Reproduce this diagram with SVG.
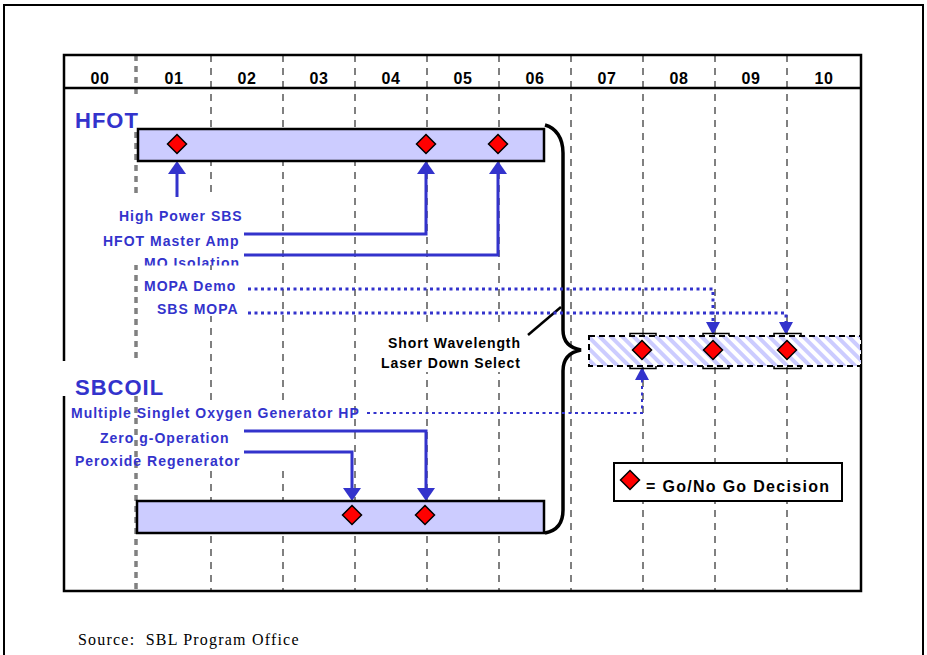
<svg xmlns="http://www.w3.org/2000/svg" width="927" height="655" viewBox="0 0 927 655">
<style>
.lbl{font-family:"Liberation Sans",Arial,sans-serif;font-weight:bold;font-size:14px;fill:#3333cc;letter-spacing:1px}
.ttl{font-family:"Liberation Sans",Arial,sans-serif;font-weight:bold;font-size:22px;fill:#3333cc;letter-spacing:1px}
.blk{font-family:"Liberation Sans",Arial,sans-serif;font-weight:bold;font-size:14px;fill:#000;letter-spacing:0.9px}
.yr{font-family:"Liberation Sans",Arial,sans-serif;font-weight:bold;font-size:16px;fill:#000;text-anchor:middle;letter-spacing:0.6px}
.grid{stroke:#808080;stroke-width:2;stroke-dasharray:7 6;fill:none}
.bar{fill:#ccccff;stroke:#000;stroke-width:2.5}
.solid{fill:none;stroke:#3333cc;stroke-width:3}
.dot{fill:none;stroke:#3333cc;stroke-width:3;stroke-dasharray:3 3.5}
.dia{fill:#ff0000;stroke:#000;stroke-width:1.5}
.wb{fill:#fff;stroke:none}
.brk{fill:none;stroke:#000;stroke-width:1.5}
</style>
<defs>
<path id="dmd" d="M0,-9.5 L9.5,0 L0,9.5 L-9.5,0 Z"/>
<marker id="ah" viewBox="0 0 13 18" refX="3" refY="9" markerWidth="13" markerHeight="18" orient="auto" markerUnits="userSpaceOnUse">
<path d="M0,0 L13,9 L0,18 Z" fill="#3333cc"/>
</marker>
<marker id="ahd" viewBox="0 0 13 14" refX="3" refY="7" markerWidth="13" markerHeight="14" orient="auto" markerUnits="userSpaceOnUse">
<path d="M0,0 L13,7 L0,14 Z" fill="#3333cc"/>
</marker>
<pattern id="hatch" width="8" height="8" patternUnits="userSpaceOnUse" patternTransform="rotate(-45)">
<rect width="8" height="8" fill="#fff"/>
<rect width="4" height="8" fill="#ccccff"/>
</pattern>
<clipPath id="moclip"><rect x="90" y="195" width="170" height="70.5"/></clipPath>
</defs>

<g id="page-frame">
<path d="M4,655 V5 H923 V655" fill="none" stroke="#000" stroke-width="2"/>
</g>

<g id="grid">
<line x1="136" y1="55" x2="136" y2="591" stroke="#808080" stroke-width="3.5" stroke-dasharray="6 5"/>
<line class="grid" x1="211" y1="55" x2="211" y2="591"/>
<line class="grid" x1="283" y1="55" x2="283" y2="591"/>
<line class="grid" x1="355" y1="55" x2="355" y2="591"/>
<line class="grid" x1="427" y1="55" x2="427" y2="591"/>
<line class="grid" x1="499" y1="55" x2="499" y2="591"/>
<line class="grid" x1="571" y1="55" x2="571" y2="591"/>
<line class="grid" x1="643" y1="55" x2="643" y2="591"/>
<line class="grid" x1="715" y1="55" x2="715" y2="591"/>
<line class="grid" x1="787" y1="55" x2="787" y2="591"/>
<rect x="64" y="55" width="797" height="536" fill="none" stroke="#000" stroke-width="2.5"/>
<line x1="64" y1="88" x2="861" y2="88" stroke="#000" stroke-width="2.5"/>
</g>

<g id="header">
<text class="yr" x="100" y="84">00</text>
<text class="yr" x="174" y="84">01</text>
<text class="yr" x="247" y="84">02</text>
<text class="yr" x="319" y="84">03</text>
<text class="yr" x="391" y="84">04</text>
<text class="yr" x="463" y="84">05</text>
<text class="yr" x="535" y="84">06</text>
<text class="yr" x="607" y="84">07</text>
<text class="yr" x="679" y="84">08</text>
<text class="yr" x="751" y="84">09</text>
<text class="yr" x="824" y="84">10</text>
</g>

<g id="text-backgrounds">
<rect class="wb" x="68" y="97" width="77" height="31"/>
<rect class="wb" x="100" y="198" width="148" height="67"/>
<rect class="wb" x="140" y="272" width="107" height="44"/>
<rect class="wb" x="60" y="361" width="110" height="35"/>
<rect class="wb" x="140" y="400" width="210" height="68"/>
<rect class="wb" x="380" y="328" width="146" height="44"/>
</g>

<g id="hfot-title"><text class="ttl" x="75" y="128">HFOT</text></g>
<g id="sbcoil-title"><text class="ttl" x="75" y="395">SBCOIL</text></g>

<g id="brace">
<path d="M545,125 C556,128 563,138 563,153 L563,330 C563,342 570,348 581,350 C570,352 563,358 563,371 L563,510 C563,524 556,531 545,533" fill="none" stroke="#000" stroke-width="3.5"/>
<line x1="528" y1="335" x2="561" y2="307" stroke="#000" stroke-width="2.5"/>
</g>

<g id="connectors">
<path class="solid" d="M177,197 V171" marker-end="url(#ah)"/>
<path class="solid" d="M244,234 H426 V171" marker-end="url(#ah)"/>
<path class="solid" d="M244,255 H498 V171" marker-end="url(#ah)"/>
<path class="dot" d="M248,289 H713 V325" marker-end="url(#ahd)"/>
<path class="dot" d="M248,313 H786 V325" marker-end="url(#ahd)"/>
<path class="dot" style="stroke-width:2" d="M367,413 H642 V377" marker-end="url(#ahd)"/>
<path class="solid" d="M244,431 H426 V491" marker-end="url(#ah)"/>
<path class="solid" d="M244,452 H352 V491" marker-end="url(#ah)"/>
</g>

<g id="hfot-bar">
<rect class="bar" x="138" y="129" width="406" height="32"/>
<use href="#dmd" class="dia" x="177" y="144"/>
<use href="#dmd" class="dia" x="426" y="144"/>
<use href="#dmd" class="dia" x="498" y="144"/>
</g>

<g id="sbcoil-bar">
<rect class="bar" x="137" y="501" width="407" height="32"/>
<use href="#dmd" class="dia" x="352" y="515"/>
<use href="#dmd" class="dia" x="425" y="515"/>
</g>

<g id="downselect-box">
<rect x="589" y="336" width="272" height="30" fill="url(#hatch)" stroke="#000" stroke-width="2" stroke-dasharray="6 4"/>
<path class="brk" d="M630,336 V333.5 H656 V336 M630,366 V368.5 H656 V366 M703,336 V333.5 H729 V336 M703,366 V368.5 H729 V366 M774,336 V333.5 H801 V336 M774,366 V368.5 H801 V366"/>
<use href="#dmd" class="dia" x="642" y="350"/>
<use href="#dmd" class="dia" x="713" y="350"/>
<use href="#dmd" class="dia" x="787" y="350"/>
</g>

<g id="hfot-labels">
<text class="lbl" x="119" y="221">High Power SBS</text>
<text class="lbl" x="103" y="246">HFOT Master Amp</text>
<text class="lbl" x="144" y="268" clip-path="url(#moclip)">MO Isolation</text>
<text class="lbl" x="144" y="291">MOPA Demo</text>
<text class="lbl" x="157" y="314">SBS MOPA</text>
</g>

<g id="downselect-label">
<text class="blk" x="388" y="348">Short Wavelength</text>
<text class="blk" x="381" y="367.5">Laser Down Select</text>
</g>

<g id="sbcoil-labels">
<text class="lbl" x="71" y="418">Multiple Singlet Oxygen Generator HP</text>
<text class="lbl" x="100" y="443">Zero g-Operation</text>
<text class="lbl" x="75" y="466">Peroxide Regenerator</text>
</g>

<g id="legend">
<rect x="614" y="463" width="228" height="38" fill="#fff" stroke="#000" stroke-width="2"/>
<use href="#dmd" class="dia" x="630" y="480"/>
<text x="646" y="492" style="font-family:'Liberation Sans',Arial,sans-serif;font-weight:bold;font-size:16px;fill:#000;letter-spacing:1.3px">= Go/No Go Decision</text>
</g>

<g id="source">
<text x="78" y="645" style="font-family:'Liberation Serif','Times New Roman',serif;font-size:16px;fill:#000;letter-spacing:1.2px">Source:&#160; SBL Program Office</text>
</g>
</svg>
